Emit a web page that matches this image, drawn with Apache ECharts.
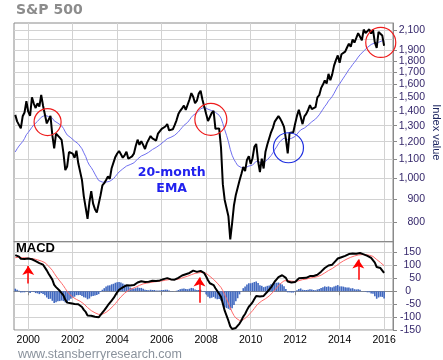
<!DOCTYPE html>
<html><head><meta charset="utf-8">
<script src="https://cdn.jsdelivr.net/npm/echarts@6/dist/echarts.min.js"></script>
<style>html,body{margin:0;padding:0;background:#fff}#c{width:443px;height:360px}</style>
</head><body><div id="c"></div>
<script>
// Monthly data, June 1999 .. January 2016
const startYear = 1999, startMonth = 6;
const spx = [
1372.7,1328.7,1320.4,1282.7,1362.9,1389.0,1469.3,
1394.5,1366.4,1498.6,1452.4,1420.6,1454.6,1430.8,1517.7,1436.5,1429.4,1315.0,1320.3,
1366.0,1239.9,1160.3,1249.5,1255.8,1224.4,1211.2,1133.6,1040.9,1059.8,1139.5,1148.1,
1130.2,1106.7,1147.4,1076.9,1067.1,989.8,911.6,916.1,815.3,885.8,936.3,879.8,
855.7,841.2,848.2,916.9,963.6,974.5,990.3,1008.0,996.0,1050.7,1058.2,1111.9,
1131.1,1144.9,1126.2,1107.3,1120.7,1140.8,1101.7,1104.2,1114.6,1130.2,1173.8,1211.9,
1181.3,1203.6,1180.6,1156.9,1191.5,1191.3,1234.2,1220.3,1228.8,1207.0,1249.5,1248.3,
1280.1,1280.7,1294.9,1310.6,1270.1,1270.2,1276.7,1303.8,1335.9,1377.9,1400.6,1418.3,
1438.2,1406.8,1420.9,1482.4,1530.6,1503.4,1455.3,1474.0,1526.8,1549.4,1481.1,1468.4,
1378.6,1330.6,1322.7,1385.6,1400.4,1280.0,1267.4,1282.8,1166.4,968.8,896.2,903.3,
825.9,735.1,797.9,872.8,919.1,919.3,987.5,1020.6,1057.1,1036.2,1095.6,1115.1,
1073.9,1104.5,1169.4,1186.7,1089.4,1030.7,1101.6,1049.3,1141.2,1183.3,1180.6,1257.6,
1286.1,1327.2,1325.8,1363.6,1345.2,1320.6,1292.3,1218.9,1131.4,1253.3,1247.0,1257.6,
1312.4,1365.7,1408.5,1397.9,1310.3,1362.2,1379.3,1406.6,1440.7,1412.2,1416.2,1426.2,
1498.1,1514.7,1569.2,1597.6,1630.7,1606.3,1685.7,1633.0,1681.6,1756.5,1805.8,1848.4,
1782.6,1859.5,1872.3,1883.9,1923.6,1960.2,1930.7,2003.4,1972.3,2018.1,2067.6,2058.9,
1995.0,2104.5,2067.9,2085.5,2107.4,2063.1,2103.8,1972.2,1920.0,2079.4,2080.4,2043.9,
1940.2];
const ema20 = [
1140,1158,1174,1184,1201,1219,1243,
1257,1268,1290,1305,1316,1329,1339,1356,1364,1370,1365,1361,
1361,1350,1332,1324,1317,1308,1299,1283,1260,1241,1231,1224,
1215,1204,1199,1187,1176,1158,1135,1114,1086,1067,1054,1038,
1020,1003,988,982,980,979,980,983,984,991,997,1008,
1020,1031,1040,1047,1054,1062,1066,1070,1074,1079,1088,1100,
1108,1117,1123,1126,1132,1138,1147,1154,1161,1166,1174,1181,
1190,1199,1208,1218,1223,1227,1232,1239,1248,1260,1274,1288,
1302,1312,1322,1338,1356,1370,1378,1387,1400,1415,1421,1425,
1421,1412,1404,1402,1402,1390,1379,1370,1350,1314,1274,1239,
1200,1155,1121,1098,1081,1065,1058,1054,1055,1053,1057,1062,
1064,1067,1077,1088,1088,1082,1084,1081,1087,1096,1104,1119,
1135,1153,1169,1188,1203,1214,1222,1221,1213,1217,1220,1223,
1232,1244,1260,1273,1277,1285,1294,1304,1317,1326,1335,1344,
1358,1373,1392,1412,1432,1449,1472,1487,1505,1529,1556,1584,
1603,1627,1650,1673,1697,1722,1742,1766,1786,1808,1833,1854,
1868,1890,1907,1924,1942,1953,1967,1968,1963,1974,1985,1990,
1985];
const macd = [
140,138,134,126,126,125,130,
127,120,124,122,117,114,109,110,103,96,81,68,
61,45,25,16,10,2,-5,-16,-33,-44,-45,-46,
-47,-49,-47,-50,-53,-61,-72,-80,-94,-97,-95,-97,
-99,-101,-101,-94,-83,-74,-64,-54,-47,-36,-27,-15,
-4,6,12,15,19,23,22,22,23,24,28,34,
36,39,39,36,37,37,40,41,41,40,42,42,
45,47,48,51,49,46,45,45,47,52,57,61,
66,66,66,71,78,80,77,75,77,79,75,70,
57,43,31,27,24,12,1,-6,-21,-48,-75,-94,
-114,-136,-146,-147,-142,-137,-125,-113,-98,-88,-73,-60,
-52,-43,-30,-18,-16,-20,-16,-18,-11,-2,4,15,
26,38,46,55,60,62,60,52,38,36,34,33,
36,42,50,55,51,51,52,55,59,59,59,59,
64,69,76,83,90,92,100,100,103,110,119,127,
127,132,135,137,140,144,143,146,145,145,148,148,
141,143,140,137,135,129,125,111,94,92,90,85,
71];
const signal = [
130,131.6,132.1,130.9,129.9,129.0,129.2,
128.7,127.0,126.4,125.6,123.8,121.8,119.1,117.3,114.5,110.9,104.8,97.4,
90.2,81.1,69.8,59.1,49.3,39.9,31.0,21.5,10.6,-0.3,-9.3,-16.5,
-22.5,-27.7,-31.5,-35.2,-38.7,-43.1,-48.9,-55.2,-62.9,-69.8,-74.9,-79.3,
-83.3,-86.8,-89.5,-90.3,-88.9,-85.9,-81.5,-76.0,-70.1,-63.3,-56.0,-47.8,
-39.0,-30.0,-21.6,-14.2,-7.6,-1.5,3.3,7.1,10.2,12.9,15.9,19.5,
22.8,26.0,28.6,30.2,31.5,32.6,34.0,35.3,36.5,37.2,38.1,38.9,
40.1,41.4,42.8,44.4,45.2,45.4,45.2,45.1,45.5,46.7,48.7,51.2,
54.1,56.4,58.4,60.9,64.2,67.3,69.2,70.3,71.6,73.1,73.4,72.6,
69.6,64.4,57.8,51.5,45.9,39.0,31.4,23.9,14.9,2.3,-13.1,-29.3,
-46.3,-64.2,-80.6,-93.9,-103.5,-110.1,-113.2,-113.1,-110.1,-105.6,-99.2,-91.4,
-83.5,-75.4,-66.3,-56.7,-48.6,-42.8,-37.5,-33.5,-29.0,-23.7,-18.1,-11.4,
-3.9,4.4,12.8,21.3,29.1,35.6,40.4,42.7,41.7,40.6,39.3,38.0,
37.6,38.5,40.8,43.6,45.0,46.2,47.4,48.9,50.9,52.5,53.8,54.8,
56.6,59.0,62.3,66.4,71.1,75.4,80.3,84.3,88.1,92.6,97.8,103.7,
108.4,113.1,117.5,121.4,125.1,128.9,131.7,134.6,136.6,138.4,140.4,142.0,
141.9,142.1,141.7,140.8,139.7,137.5,135.1,130.2,122.9,116.8,111.5,106.1,
99.1];
const hist = [
10,6,2,-5,-4,-4,1,
-2,-7,-2,-3,-7,-8,-11,-7,-11,-15,-24,-30,
-29,-37,-45,-43,-39,-38,-36,-38,-43,-43,-36,-29,
-24,-21,-15,-15,-14,-18,-23,-25,-31,-28,-20,-18,
-16,-14,-11,-3,6,12,18,22,23,27,29,33,
35,36,34,30,26,24,19,15,12,11,12,15,
13,13,10,6,5,4,6,5,5,3,3,3,
5,5,6,6,3,1,-1,0,2,5,8,10,
11,9,8,10,13,12,7,5,5,6,1,-3,
-12,-21,-27,-25,-22,-28,-31,-30,-36,-50,-62,-65,
-68,-72,-66,-53,-39,-27,-12,1,12,18,26,31,
31,33,36,38,32,23,21,16,18,21,22,27,
30,33,33,34,31,26,19,9,-4,-4,-5,-5,
-2,4,9,11,6,5,5,6,8,7,5,4,
7,9,13,16,19,17,19,16,15,18,21,24,
19,19,18,16,15,15,11,12,8,7,8,6,
-1,1,-2,-4,-4,-9,-10,-19,-29,-24,-21,-22,
-28];
const yearTicks = [2000,2002,2004,2006,2008,2010,2012,2014,2016];
const priceTicks = [800,900,1000,1100,1200,1300,1400,1500,1600,1700,1800,1900,2000,2100];
const macdTicks = [-150,-100,-50,0,50,100,150];
// annotations [year, value, size]
const redCircles = [[2000.87,1324,27],[2008.21,1342,32],[2015.85,1973,30]];
const blueCircles = [[2011.7,1164,30]];
const arrows = [[2000.0,30,98],[2007.7,-44,53],[2014.84,45,123]];

const dates = spx.map((_, i) => startYear + (startMonth - 1 + i) / 12);
const pair = arr => arr.map((v, i) => [dates[i], v]);
const grey = '#8a8a8a', gridC = '#d2d2d2', labC = '#35276b';
const xMin = 1999.36, xMax = 2016.4;
const circ = (list, color) => ({
  silent: true, symbol: 'circle', label: {show: false},
  itemStyle: {color: 'rgba(0,0,0,0)', borderColor: color, borderWidth: 1.2},
  data: list.map(c => ({coord: [c[0], c[1]], symbolSize: c[2]}))
});
const labBase = {color: labC, fontSize: 10.5, fontFamily: 'Liberation Sans', align: 'right',
                 showMinLabel: true, showMaxLabel: true, hideOverlap: false};

const chart = echarts.init(document.getElementById('c'));
chart.setOption({
  animation: false,
  backgroundColor: '#fff',
  grid: [
    {left: 14, top: 23, width: 379, height: 218.7, show: true, borderColor: grey, borderWidth: 1,
     containLabel: false, outerBoundsMode: 'none'},
    {left: 14, top: 241.7, width: 379, height: 88.3, show: true, borderColor: grey, borderWidth: 1,
     containLabel: false, outerBoundsMode: 'none'}
  ],
  xAxis: [
    {type: 'value', gridIndex: 0, min: xMin, max: xMax,
     axisLine: {show: true, lineStyle: {color: grey}},
     axisTick: {show: false, customValues: yearTicks},
     axisLabel: {show: false, customValues: yearTicks},
     splitLine: {show: true, lineStyle: {color: gridC}}},
    {type: 'value', gridIndex: 1, min: xMin, max: xMax,
     axisLine: {show: true, lineStyle: {color: grey}},
     axisTick: {show: true, customValues: yearTicks, length: 4, lineStyle: {color: grey}},
     axisLabel: {customValues: yearTicks, color: '#000', fontSize: 10.5, fontFamily: 'Liberation Sans', margin: 5,
                 showMinLabel: true, showMaxLabel: true, hideOverlap: false,
                 formatter: v => String(Math.round(v))},
     splitLine: {show: true, lineStyle: {color: gridC}}}
  ],
  yAxis: [
    {type: 'log', logBase: 10, gridIndex: 0, position: 'right', min: 727, max: 2175,
     axisLine: {show: true, lineStyle: {color: grey}},
     axisTick: {show: true, customValues: priceTicks, length: 4, lineStyle: {color: grey}},
     axisLabel: Object.assign({}, labBase, {customValues: priceTicks, margin: 32,
                 formatter: v => Math.round(v).toLocaleString('en-US')}),
     splitLine: {show: true, lineStyle: {color: gridC}},
     name: 'Index value', nameLocation: 'middle', nameGap: 38, nameRotate: -90, nameMoveOverlap: false,
     nameTextStyle: {color: '#1d2660', fontSize: 11, fontFamily: 'Liberation Sans'}},
    {type: 'value', gridIndex: 1, position: 'right', min: -150, max: 192,
     axisLine: {show: true, lineStyle: {color: grey}},
     axisTick: {show: true, customValues: macdTicks, length: 4, lineStyle: {color: grey}},
     axisLabel: Object.assign({}, labBase, {customValues: macdTicks, margin: 28,
                 formatter: v => Math.round(v) === 0 ? '{z|0}' : String(Math.round(v)),
                 rich: {z: {padding: [0, 10, 0, 0], color: labC, fontSize: 10.5, fontFamily: 'Liberation Sans'}}}),
     splitLine: {show: true, lineStyle: {color: gridC}}}
  ],
  series: [
    {name: 'EMA', type: 'line', xAxisIndex: 0, yAxisIndex: 0, data: pair(ema20), showSymbol: false,
     lineStyle: {color: '#7070f0', width: 1}, z: 2, markPoint: circ(blueCircles, '#2030e0')},
    {name: 'S&P 500', type: 'line', xAxisIndex: 0, yAxisIndex: 0, data: pair(spx), showSymbol: false,
     lineStyle: {color: '#000', width: 2}, z: 3, markPoint: circ(redCircles, '#ee1c1c')},
    {name: 'Histogram', type: 'bar', xAxisIndex: 1, yAxisIndex: 1, data: pair(hist), barWidth: 1.6,
     itemStyle: {color: '#4169c0'}, z: 1},
    {name: 'Signal', type: 'line', xAxisIndex: 1, yAxisIndex: 1, data: pair(signal), showSymbol: false,
     lineStyle: {color: '#ff6a6a', width: 1}, z: 2},
    {name: 'MACD', type: 'line', xAxisIndex: 1, yAxisIndex: 1, data: pair(macd), showSymbol: false,
     lineStyle: {color: '#000', width: 2}, z: 3,
     markLine: {silent: true, symbol: ['none', 'arrow'], symbolSize: 9, label: {show: false},
       lineStyle: {color: '#ff0000', width: 1.5, type: 'solid'},
       data: arrows.map(a => [{coord: [a[0], a[1]]}, {coord: [a[0], a[2]]}])}}
  ],
  graphic: [
    {type: 'text', x: 16, y: 10, style: {text: 'S&P 500', font: 'bold 14px "DejaVu Sans"', fill: '#8c8c8c', verticalAlign: 'middle'}},
    {type: 'text', x: 16, y: 248, z: 100, style: {text: 'MACD', font: 'bold 13px "Liberation Sans"', fill: '#000', verticalAlign: 'middle'}},
    {type: 'text', x: 171.7, y: 172.3, z: 100, style: {text: '20-month', font: 'bold 12.5px "DejaVu Sans"', fill: '#2222ee', align: 'center', verticalAlign: 'middle'}},
    {type: 'text', x: 171.7, y: 188.3, z: 100, style: {text: 'EMA', font: 'bold 12.5px "DejaVu Sans"', fill: '#2222ee', align: 'center', verticalAlign: 'middle'}},
    {type: 'text', x: 18, y: 355, style: {text: 'www.stansberryresearch.com', font: '12.5px "Liberation Sans"', fill: '#8a929c', verticalAlign: 'middle'}}
  ]
});
</script></body></html>
